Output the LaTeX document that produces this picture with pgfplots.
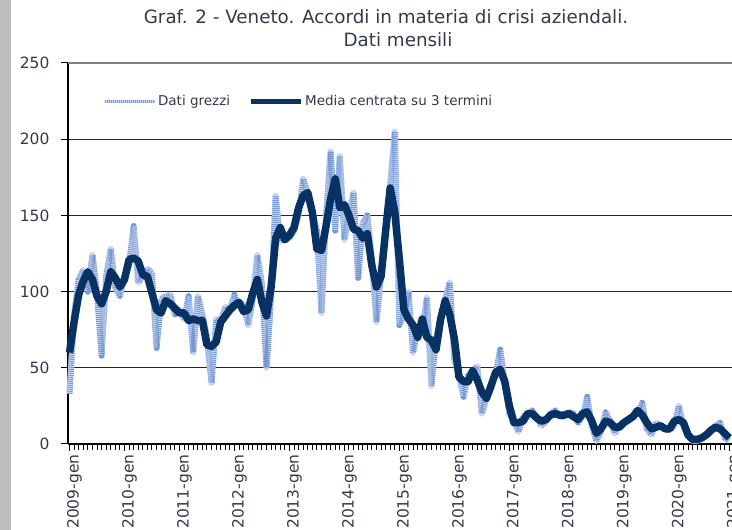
\documentclass[border=0pt]{standalone}
\usepackage{pgfplots}
\usepackage{pgfplotstable}
\pgfplotsset{compat=1.18}
\usepackage{fontspec}
\setmainfont{DejaVu Sans}
\definecolor{navy}{RGB}{8,50,100}
\definecolor{rawbase}{RGB}{200,215,242}
\definecolor{rawdash}{RGB}{120,152,212}
\definecolor{txt}{RGB}{50,58,75}
\definecolor{barg}{RGB}{190,190,190}
\pgfplotstableread{
m raw ma
0 33 60
1 85 80
2 108 98
3 114 107
4 100 113
5 124 108
6 100 97
7 58 92
8 110 100
9 128 113
10 103 109
11 97 103
12 110 108
13 117 121
14 143 122
15 106 120
16 110 111
17 115 110
18 112 99
19 63 88
20 95 86
21 97 94
22 98 92
23 85 89
24 88 86
25 82 86
26 97 81
27 60 82
28 97 81
29 85 81
30 70 65
31 40 64
32 82 67
33 80 80
34 90 84
35 88 88
36 98 91
37 90 93
38 92 87
39 78 88
40 95 99
41 124 108
42 105 93
43 50 84
44 97 103
45 163 135
46 133 142
47 135 134
48 135 137
49 140 142
50 150 155
51 174 163
52 165 165
53 152 152
54 140 128
55 86 127
56 150 143
57 192 161
58 140 174
59 189 155
60 134 157
61 150 150
62 165 141
63 109 140
64 145 135
65 150 138
66 120 117
67 80 103
68 110 110
69 140 140
70 170 168
71 205 152
72 78 121
73 85 88
74 100 82
75 60 78
76 75 70
77 75 82
78 96 70
79 38 68
80 70 62
81 80 82
82 95 94
83 106 85
84 55 69
85 46 44
86 31 41
87 45 41
88 48 48
89 51 42
90 20 34
91 30 30
92 40 38
93 45 47
94 62 49
95 40 41
96 20 25
97 15 14
98 8 14
99 18 15
100 20 20
101 22 20
102 17 17
103 12 15
104 15 16
105 20 19
106 22 20
107 18 19
108 18 19
109 21 20
110 20 18
111 14 16
112 18 20
113 31 21
114 12 15
115 2 7
116 8 10
117 21 15
118 15 14
119 7 11
120 12 11
121 14 14
122 16 16
123 18 18
124 20 22
125 27 19
126 10 14
127 6 10
128 14 11
129 12 12
130 10 10
131 9 10
132 12 15
133 25 16
134 12 14
135 5 6
136 2 3
137 2 3
138 4 4
139 6 6
140 8 9
141 12 11
142 14 10
143 4 7
144 2 4
}\datatable
\begin{document}
\begin{tikzpicture}[x=1pt,y=1pt]
\useasboundingbox (0,0) rectangle (732,530);
\clip (0,0) rectangle (732,530);
\fill[white] (0,0) rectangle (732,530);
\fill[barg] (0,0) rectangle (11,530);
\node[text=txt, font=\fontsize{18.3}{18.3}\selectfont] at (386,513) {Graf. 2 - Veneto. Accordi in materia di crisi aziendali.};
\node[text=txt, font=\fontsize{18.3}{18.3}\selectfont] at (398,490) {Dati mensili};
\begin{axis}[
  at={(68pt,86pt)}, anchor=south west,
  scale only axis, width=664pt, height=381pt,
  xmin=-0.33, xmax=144.6, ymin=0, ymax=250,
  clip=false,
  /pgf/number format/assume math mode=true,
  axis x line=bottom, axis y line=left,
  axis line style={-, black, line width=1.3pt},
  xtick={0,12,...,144},
  xticklabels={2009-gen,2010-gen,2011-gen,2012-gen,2013-gen,2014-gen,2015-gen,2016-gen,2017-gen,2018-gen,2019-gen,2020-gen,2021-gen},
  minor xtick={0,1,...,144},
  ytick={0,50,...,250},
  tick align=outside,
  major tick length=7pt, minor tick length=6pt,
  tick style={black, line width=1pt},
  ymajorgrids,
  grid style={line width=1.3pt, color=black!85},
  x tick label style={rotate=90, anchor=east, yshift=-5pt, font=\fontsize{15.5}{15.5}\selectfont\rmfamily, text=txt},
  y tick label style={xshift=-8pt, font=\fontsize{15.5}{15.5}\selectfont\rmfamily, text=txt},
  legend style={at={(rel axis cs:0.048,0.9)}, anchor=west, draw=none, fill=none,
    legend columns=2, font=\fontsize{13.5}{13.5}\selectfont, text=txt,
    /tikz/every even column/.append style={column sep=16pt}},
  legend image code/.code={\draw[#1] (0pt,0pt) -- (50pt,0pt);},
]
\addplot[rawbase, line width=6pt, line join=round,
  postaction={draw=rawdash, dash pattern=on 0.8pt off 1.2pt},
  legend image post style={line width=3pt}]
  table[x=m,y=raw]{\datatable};
\addlegendentry{Dati grezzi}
\addplot[navy, line width=7.5pt, line join=round,
  legend image post style={line width=5pt}]
  table[x=m,y=ma]{\datatable};
\addlegendentry{Media centrata su 3 termini}
\draw[black!50, line width=1.3pt] (axis cs:-0.33,250) -- (axis cs:144.6,250);
\end{axis}
\end{tikzpicture}
\end{document}
